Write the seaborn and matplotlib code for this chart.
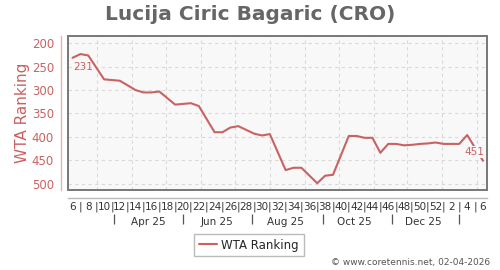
import datetime as dt
import matplotlib
matplotlib.use("Agg")
import matplotlib.pyplot as plt
import matplotlib.dates as mdates
import matplotlib.ticker as mticker
from matplotlib.patches import Rectangle
from matplotlib.lines import Line2D
import pandas as pd
import seaborn as sns

# ---------------- data ----------------
title = "Lucija Ciric Bagaric (CRO)"
series_name = "WTA Ranking"
years = [2025] * 37 + [2026] * 4
weeks = [6, 7, 8, 10, 12, 14, 15, 16, 17, 19, 21, 22, 24, 25, 26, 27,
         29, 30, 31, 33, 34, 35, 37, 38, 39, 41, 42, 43, 44, 45, 46, 47,
         48, 49, 50, 51, 52, 1, 3, 4, 6]
ranks = [231, 223, 226, 277, 280, 300, 305, 305, 303, 331, 328, 334, 390,
         390, 380, 377, 393, 397, 394, 471, 466, 466, 499, 483, 481, 398,
         398, 402, 402, 434, 415, 415, 418, 417, 415, 414, 412, 415, 415,
         396, 451]
y_ticks = [200, 250, 300, 350, 400, 450, 500]
month_labels = ["Apr 25", "Jun 25", "Aug 25", "Oct 25", "Dec 25"]
month_label_dates = ["2025-04-15", "2025-06-15", "2025-08-15",
                     "2025-10-15", "2025-12-15"]
month_sep_dates = ["2025-03-16", "2025-05-16", "2025-07-16", "2025-09-17",
                   "2025-11-17", "2026-01-16"]
credit = "\u00a9 www.coretennis.net, 02-04-2026"

# ---------------- styling ----------------
RED = "#c96262"
sns.set_theme(style="white")
plt.rcParams["font.family"] = ["DejaVu Sans"]

dates = [dt.datetime.fromisocalendar(y, w, 5) for y, w in zip(years, weeks)]
df = pd.DataFrame({"date": dates, "rank": ranks})

fig = plt.figure(figsize=(5.0, 2.7), dpi=100)
ax = fig.add_axes([68 / 500, 1 - 190 / 270, (487 - 68) / 500, (190 - 35.5) / 270])
ax.set_facecolor("#f8f8f8")

sns.lineplot(data=df, x="date", y="rank", ax=ax, color=RED, linewidth=1.5,
             legend=False)

ax.set_xlim(dt.datetime(2025, 2, 3), dt.datetime(2026, 2, 9, 14))
ax.set_ylim(513.5, 183.3)

# grid
ax.xaxis.set_major_locator(mdates.MonthLocator())
ax.set_yticks(y_ticks)
ax.grid(True, which="major", color="#d9d9d9", linestyle=(0, (3, 3)), linewidth=0.8)
ax.set_axisbelow(True)

# frame
for s in ["top", "right"]:
    ax.spines[s].set_visible(False)
ax.add_patch(Rectangle((0, 0), 1, 1, transform=ax.transAxes, fill=False,
                       edgecolor="#777777", linewidth=1.4, clip_on=False, zorder=5))

# left axis (offset, pink)
ax.spines["left"].set_position(("outward", 5))
ax.spines["left"].set_color("#e2b5b5")
ax.spines["left"].set_linewidth(1.0)
ax.tick_params(axis="y", length=0, pad=5, labelsize=8.5, labelcolor=RED)
ax.set_ylabel(series_name, color=RED, fontsize=11)
ax.yaxis.set_label_coords(-0.09, 0.5)

# bottom axis (offset, light gray) with week labels
ax.spines["bottom"].set_position(("outward", 5.5))
ax.spines["bottom"].set_color("#bbbbbb")
ax.spines["bottom"].set_linewidth(1.0)
ax.xaxis.remove_overlapping_locs = False
week_dates = []
d = dt.datetime.fromisocalendar(2025, 6, 5)
end = dt.datetime.fromisocalendar(2026, 6, 5)
while d <= end:
    week_dates.append(d)
    d += dt.timedelta(days=7)
week_labels = [str(x.isocalendar()[1]) if x.isocalendar()[1] % 2 == 0 else "|"
               for x in week_dates]
ax.xaxis.set_minor_locator(mticker.FixedLocator(mdates.date2num(week_dates)))
ax.xaxis.set_minor_formatter(mticker.FixedFormatter(week_labels))
ax.xaxis.set_major_formatter(mticker.NullFormatter())
ax.tick_params(axis="x", which="major", length=0)
ax.tick_params(axis="x", which="minor", length=2, color="#bbbbbb", pad=0.8,
               labelsize=7.5, labelcolor="#333333")
ax.set_xlabel("")

# month row
sec = ax.secondary_xaxis(-0.155)
sec.spines["bottom"].set_visible(False)
sec.xaxis.remove_overlapping_locs = False
sec.xaxis.set_major_locator(mticker.FixedLocator(
    mdates.date2num(pd.to_datetime(month_sep_dates))))
sec.xaxis.set_major_formatter(mticker.NullFormatter())
sec.xaxis.set_minor_locator(mticker.FixedLocator(
    mdates.date2num(pd.to_datetime(month_label_dates))))
sec.xaxis.set_minor_formatter(mticker.FixedFormatter(month_labels))
sec.tick_params(axis="x", which="major", length=7.5, width=0.9, color="#555555",
                direction="out")
sec.tick_params(axis="x", which="minor", length=0, pad=2.5, labelsize=7.5,
                labelcolor="#333333")

# end-point annotations
ax.annotate(str(ranks[0]), xy=(dates[0], ranks[0]), xytext=(0.5, -6.5),
            textcoords="offset points", ha="left", va="center",
            fontsize=7.5, color=RED)
ax.annotate(str(ranks[-1]), xy=(dates[-1], ranks[-1]), xytext=(1, 2.5),
            textcoords="offset points", ha="right", va="bottom",
            fontsize=7.5, color=RED,
            bbox=dict(boxstyle="square,pad=0.1", facecolor="#f8f8f8",
                      edgecolor="none"))

# title, legend, credit
fig.text(0.5, 1 - 14 / 270, title, ha="center", va="center", fontsize=14.5,
         fontweight="bold", color="#666666")
handle = Line2D([], [], color=RED, linewidth=1.5)
fig.legend([handle], [series_name], loc="center",
           bbox_to_anchor=(249 / 500, 1 - 245 / 270), fontsize=8.5,
           frameon=True, fancybox=False, edgecolor="#aaaaaa",
           handlelength=1.5, handletextpad=0.4, borderpad=0.4)
fig.text(490 / 500, 1 - 262 / 270, credit, ha="right", va="center",
         fontsize=6.5, color="#555555")

fig.savefig("out.png", dpi=100)
